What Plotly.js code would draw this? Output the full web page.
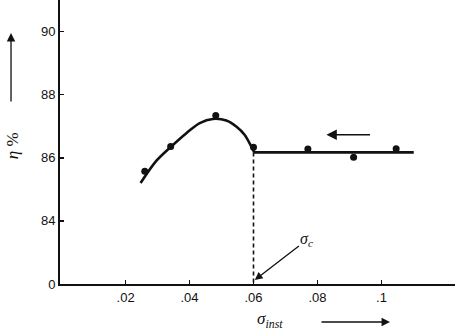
<!DOCTYPE html>
<html>
<head>
<meta charset="utf-8">
<script src="https://cdn.plot.ly/plotly-3.0.1.min.js"></script>
<style>html,body{margin:0;padding:0;background:#fff;}#chart{width:459px;height:334px;}</style>
</head>
<body>
<div id="chart"></div>
<script>
// Measured points (sigma_inst, efficiency %)
const pointX = [0.0260, 0.0341, 0.0482, 0.0600, 0.0770, 0.0913, 0.1046];
const pointY = [85.57, 86.36, 87.34, 86.33, 86.28, 86.02, 86.29];
// Fitted curve (rising/falling part)
const curveX = [0.0247, 0.0296, 0.0343, 0.0390, 0.0432, 0.0473, 0.0515, 0.0546, 0.0572, 0.0593, 0.0602];
const curveY = [85.20, 85.90, 86.36, 86.78, 87.10, 87.23, 87.18, 86.99, 86.73, 86.36, 86.18];
// Flat part of the curve
const flatX = [0.0600, 0.1101];
const flatY = [86.17, 86.17];
// Critical value sigma_c
const sigmaC = 0.0600;
// Axis ticks (y axis is broken: bottom tick labelled 0)
const xTickVals = [0.02, 0.04, 0.06, 0.08, 0.1];
const xTickText = ['.02', '.04', '.06', '.08', '.1'];
const yTickVals = [82, 84, 86, 88, 90];
const yTickText = ['0', '84', '86', '88', '90'];

const font = {family: 'Liberation Sans, Arial, sans-serif', size: 13, color: '#111'};

const traces = [
  {x: curveX, y: curveY, mode: 'lines', line: {color: '#111', width: 2.6, shape: 'spline', smoothing: 0.9}, hoverinfo: 'skip'},
  {x: flatX, y: flatY, mode: 'lines', line: {color: '#111', width: 2.6}, hoverinfo: 'skip'},
  {x: [sigmaC, sigmaC], y: [flatY[0], yTickVals[0]], mode: 'lines', line: {color: '#111', width: 1.6, dash: '4px,3px'}, hoverinfo: 'skip'},
  {x: pointX, y: pointY, mode: 'markers', marker: {color: '#111', size: 7}}
];

const layout = {
  width: 459, height: 334,
  margin: {l: 60, r: 4, t: 0, b: 50},
  paper_bgcolor: '#fff', plot_bgcolor: '#fff',
  showlegend: false,
  font: font,
  xaxis: {
    range: [-0.0005, 0.123], showgrid: false, zeroline: false,
    showline: true, linecolor: '#111', linewidth: 2,
    ticks: 'inside', ticklen: 4, tickwidth: 1.5, tickcolor: '#111',
    tickvals: xTickVals, ticktext: xTickText, tickfont: font
  },
  yaxis: {
    range: [82, 91], showgrid: false, zeroline: false,
    showline: true, linecolor: '#111', linewidth: 2,
    ticks: 'inside', ticklen: 4, tickwidth: 1.5, tickcolor: '#111',
    tickvals: yTickVals, ticktext: yTickText, tickfont: font
  },
  annotations: [
    // y title
    {xref: 'paper', yref: 'paper', x: -0.1215, y: 0.485, xanchor: 'center', yanchor: 'middle',
     text: '<i>η</i> %', textangle: -90,
     showarrow: false, font: {family: 'Liberation Serif, serif', size: 17, color: '#111'}},
    // y arrow
    {xref: 'paper', yref: 'paper', x: -0.124, y: (284 - 33) / 284, ax: 0, ay: 70, text: '',
     showarrow: true, arrowhead: 2, arrowsize: 1.3, arrowwidth: 1.3, arrowcolor: '#111'},
    // x title
    {xref: 'paper', yref: 'paper', x: (270 - 60) / 395, y: (284 - 320) / 284, xanchor: 'center', yanchor: 'middle',
     text: '<i>σ<sub>inst</sub></i>',
     showarrow: false, font: {family: 'Liberation Serif, serif', size: 17, color: '#111'}},
    // x arrow
    {xref: 'paper', yref: 'paper', x: (390 - 60) / 395, y: (284 - 322) / 284, ax: -70, ay: 0, text: '',
     showarrow: true, arrowhead: 2, arrowsize: 1.3, arrowwidth: 1.3, arrowcolor: '#111'},
    // direction arrow in plot
    {xref: 'x', yref: 'y', x: 0.0828, y: 86.73, axref: 'x', ayref: 'y', ax: 0.0969, ay: 86.73, text: '',
     showarrow: true, arrowhead: 2, arrowsize: 1.3, arrowwidth: 1.6, arrowcolor: '#111'},
    // sigma_c label
    {xref: 'x', yref: 'y', x: 0.0604, y: 82.13, axref: 'x', ayref: 'y', ax: 0.0767, ay: 83.4,
     text: '<i>σ<sub>c</sub></i>', showarrow: true, arrowhead: 2, arrowsize: 1.2, arrowwidth: 1.3, arrowcolor: '#111',
     font: {family: 'Liberation Serif, serif', size: 16, color: '#111'}}
  ]
};

Plotly.newPlot('chart', traces, layout, {displayModeBar: false, staticPlot: true});
</script>
</body>
</html>
